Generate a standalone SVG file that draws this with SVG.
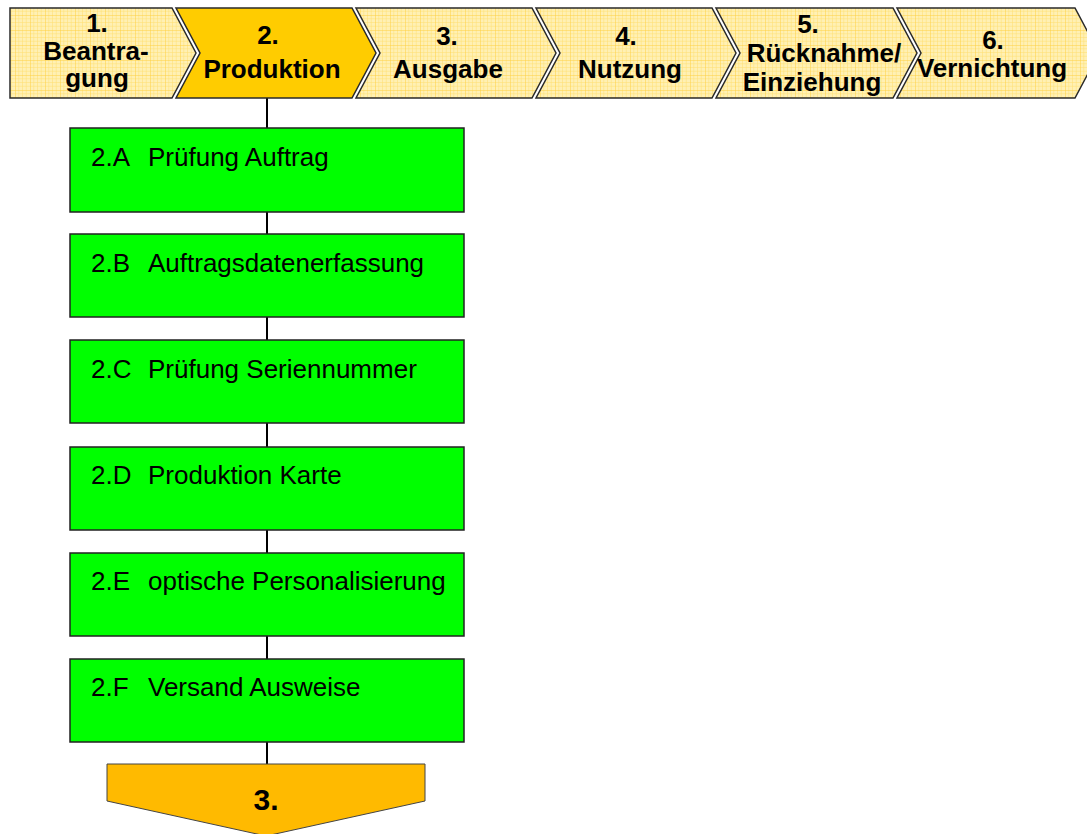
<svg xmlns="http://www.w3.org/2000/svg" width="1087" height="834" viewBox="0 0 1087 834">
<defs>
<pattern id="grid" x="0" y="0" width="15" height="15" patternUnits="userSpaceOnUse">
<rect width="15" height="15" fill="#FFF0B4"/>
<path d="M3.75 0V15M7.5 0V15M11.25 0V15M0 3.75H15M0 7.5H15M0 11.25H15" stroke="#FFDF70" stroke-width="0.5" fill="none"/>
<path d="M0 0V15M0 0H15" stroke="#FFD040" stroke-width="1" fill="none"/>
</pattern>
<style>
.chev{fill:url(#grid);stroke:#2a2a2a;stroke-width:1.5;stroke-linejoin:miter}
.chevA{fill:#FFCC00;stroke:#2a2a2a;stroke-width:1.5}
.ht{font-family:"Liberation Sans",Arial,sans-serif;font-weight:bold;font-size:26px;fill:#000;text-anchor:middle}
.box{fill:#00FF00;stroke:#222;stroke-width:1.5}
.bt{font-family:"Liberation Sans",Arial,sans-serif;font-size:26px;fill:#000}
.conn{stroke:#000;stroke-width:2;fill:none}
</style>
</defs>
<rect width="1087" height="834" fill="#fff"/>
<g id="connectors">
<line class="conn" x1="267" y1="98" x2="267" y2="764"/>
</g>
<g id="phase1">
<path class="chev" d="M10,8 L172,8 L196,53 L172,98 L10,98 Z"/>
<text class="ht" x="97" y="32">1.</text>
<text class="ht" x="96" y="60">Beantra-</text>
<text class="ht" x="97" y="87">gung</text>
</g>
<g id="phase2">
<path class="chevA" d="M176,8 L352,8 L376,53 L352,98 L176,98 L200,53 Z"/>
<text class="ht" x="268" y="44">2.</text>
<text class="ht" x="272" y="78">Produktion</text>
</g>
<g id="phase3">
<path class="chev" d="M356,8 L532,8 L556,53 L532,98 L356,98 L380,53 Z"/>
<text class="ht" x="447" y="45">3.</text>
<text class="ht" x="448" y="78">Ausgabe</text>
</g>
<g id="phase4">
<path class="chev" d="M536,8 L712,8 L736,53 L712,98 L536,98 L560,53 Z"/>
<text class="ht" x="626" y="45">4.</text>
<text class="ht" x="630" y="78">Nutzung</text>
</g>
<g id="phase5">
<path class="chev" d="M716,8 L893,8 L917,53 L893,98 L716,98 L740,53 Z"/>
<text class="ht" x="808" y="33">5.</text>
<text class="ht" x="824" y="62">Rücknahme/</text>
<text class="ht" x="812" y="91">Einziehung</text>
</g>
<g id="phase6">
<path class="chev" d="M897,8 L1075,8 L1099,53 L1075,98 L897,98 L921,53 Z"/>
<text class="ht" x="993" y="49">6.</text>
<text class="ht" x="992" y="77">Vernichtung</text>
</g>
<g id="step2A">
<rect class="box" x="70" y="128" width="394" height="84"/>
<text class="bt" x="91" y="166">2.A</text>
<text class="bt" x="148" y="166">Prüfung Auftrag</text>
</g>
<g id="step2B">
<rect class="box" x="70" y="234" width="394" height="83"/>
<text class="bt" x="91" y="272">2.B</text>
<text class="bt" x="148" y="272">Auftragsdatenerfassung</text>
</g>
<g id="step2C">
<rect class="box" x="70" y="340" width="394" height="83"/>
<text class="bt" x="91" y="378">2.C</text>
<text class="bt" x="148" y="378">Prüfung Seriennummer</text>
</g>
<g id="step2D">
<rect class="box" x="70" y="447" width="394" height="83"/>
<text class="bt" x="91" y="484">2.D</text>
<text class="bt" x="148" y="484">Produktion Karte</text>
</g>
<g id="step2E">
<rect class="box" x="70" y="553" width="394" height="83"/>
<text class="bt" x="91" y="590">2.E</text>
<text class="bt" x="148" y="590">optische Personalisierung</text>
</g>
<g id="step2F">
<rect class="box" x="70" y="659" width="394" height="83"/>
<text class="bt" x="91" y="696">2.F</text>
<text class="bt" x="148" y="696">Versand Ausweise</text>
</g>
<g id="next3">
<path d="M107,764 L425,764 L425,801 L266,836 L107,801 Z" fill="#FFBA00" stroke="#444" stroke-width="1"/>
<text class="ht" x="266" y="810" style="font-size:30px">3.</text>
</g>
</svg>
